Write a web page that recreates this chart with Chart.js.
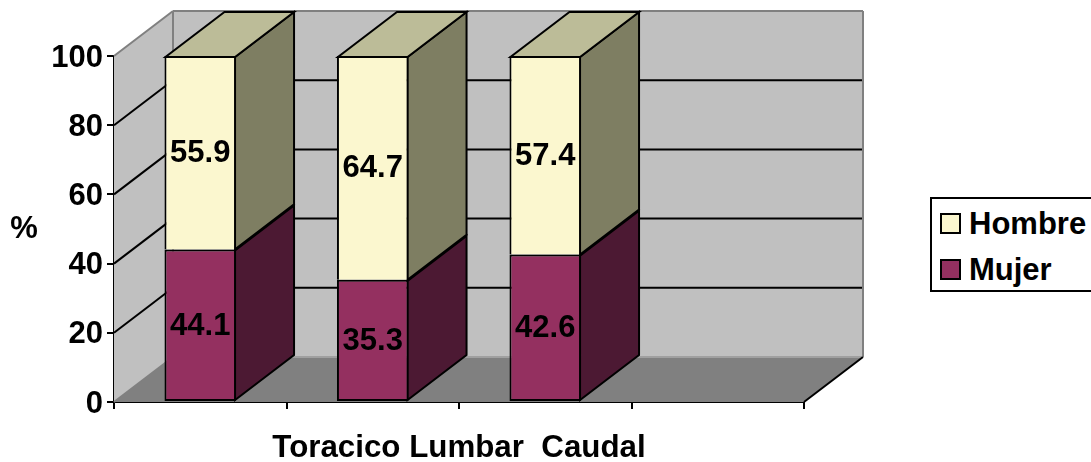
<!DOCTYPE html>
<html>
<head>
<meta charset="utf-8">
<title>Toracico Lumbar Caudal</title>
<script src="https://cdn.jsdelivr.net/npm/chart.js@4"></script>
<style>
    body { margin:0; background:#ffffff; overflow:hidden; }
    #wrap { position:relative; width:1091px; height:462px; }
    #legend {
        position:absolute; left:930px; top:197px; width:161px; height:91px;
        border:2px solid #000000; border-right:none; background:#ffffff;
        font:bold 31px "Liberation Sans", Arial, sans-serif; color:#000000;
    }
    #legend div { position:absolute; left:37px; line-height:34px; white-space:nowrap; }
    #legend span {
        position:absolute; left:-29px; top:6px; width:17px; height:17px;
        border:2px solid #000000; box-sizing:content-box;
    }
</style>
</head>
<body>
<div id="wrap">
    <canvas id="chart" width="1091" height="462"></canvas>
    <div id="legend"></div>
</div>
<script>
const categories = ["Toracico", "Lumbar", "Caudal", ""];
const mujer = [44.1, 35.3, 42.6, null];
const hombre = [55.9, 64.7, 57.4, null];
const yTicks = [0, 20, 40, 60, 80, 100];
const xTitle = "Toracico Lumbar  Caudal";
const yTitle = "%";

const FONT = '"Liberation Sans", Arial, sans-serif';
const DX = 59, DY = -45; // depth of the fake 3d box

const colors = {
    wall: "#c0c0c0", floor: "#808080", edge: "#808080",
    hombre: "#fbf7cf", hombreSide: "#7e7e62", hombreTop: "#bcbc98",
    mujer: "#943060", mujerSide: "#4c1933"
};

function poly(ctx, pts, fill, stroke){
    ctx.beginPath();
    pts.forEach((p, i) => i ? ctx.lineTo(p[0], p[1]) : ctx.moveTo(p[0], p[1]));
    ctx.closePath();
    if(fill){ ctx.fillStyle = fill; ctx.fill(); }
    if(stroke){ ctx.strokeStyle = stroke; ctx.lineWidth = 2; ctx.stroke(); }
}

function line(ctx, x1, y1, x2, y2, color, w){
    ctx.beginPath();
    ctx.moveTo(x1, y1);
    ctx.lineTo(x2, y2);
    ctx.strokeStyle = color;
    ctx.lineWidth = w;
    ctx.stroke();
}

const box3d = {
    id: "box3d",
    beforeDatasetsDraw(chart){
        const ctx = chart.ctx;
        const l = chart.scales.x.left, r = chart.scales.x.right;
        const y0 = chart.scales.y.getPixelForValue(0);
        const y100 = chart.scales.y.getPixelForValue(100);
        ctx.save();
        // walls and floor
        poly(ctx, [[l,y0],[l,y100],[l+DX,y100+DY],[l+DX,y0+DY]], colors.wall);
        poly(ctx, [[l+DX,y0+DY],[l+DX,y100+DY],[r+DX,y100+DY],[r+DX,y0+DY]], colors.wall);
        poly(ctx, [[l,y0],[l+DX,y0+DY],[r+DX,y0+DY],[r,y0]], colors.floor);
        // grid on the walls
        yTicks.slice(1, -1).forEach(v => {
            const y = chart.scales.y.getPixelForValue(v);
            line(ctx, l, y, l+DX, y+DY, "#000000", 2);
            line(ctx, l+DX, y+DY, r+DX, y+DY, "#000000", 2);
        });
        line(ctx, l, y100, l+DX, y100+DY, colors.edge, 2);
        line(ctx, l+DX, y100+DY, r+DX, y100+DY, colors.edge, 2);
        line(ctx, l+DX, y100+DY, l+DX, y0+DY, colors.edge, 2);
        line(ctx, r+DX, y100+DY, r+DX, y0+DY, colors.edge, 2);
        line(ctx, l+DX, y0+DY, r+DX, y0+DY, "#a0a0a0", 2);
        line(ctx, l, y0, l+DX, y0+DY, colors.edge, 2);
        line(ctx, r, y0, r+DX, y0+DY, "#000000", 2);

        // side and top faces of the bars, 1px in so they meet the bar border
        const sides = [colors.mujerSide, colors.hombreSide];
        chart.data.datasets.forEach((ds, d) => {
            chart.getDatasetMeta(d).data.forEach((bar, i) => {
                if(ds.data[i] == null) return;
                const p = bar.getProps(["x", "y", "base", "width"]);
                const x2 = p.x + p.width/2 - 1;
                const top = p.y + 1, base = p.base - (d == 0 ? 1 : 0);
                poly(ctx, [[x2,base],[x2,top],[x2+DX,top+DY],[x2+DX,base+DY]], sides[d], "#000000");
                if(d == 1){
                    const x1 = p.x - p.width/2 + 1;
                    poly(ctx, [[x1,top],[x2,top],[x2+DX,top+DY],[x1+DX,top+DY]], colors.hombreTop, "#000000");
                }
            });
        });
        ctx.restore();
    },
    afterDatasetsDraw(chart){
        const ctx = chart.ctx;
        ctx.save();
        ctx.font = "bold 31px " + FONT;
        ctx.fillStyle = "#000000";
        ctx.textAlign = "center";
        ctx.textBaseline = "middle";
        chart.data.datasets.forEach((ds, d) => {
            chart.getDatasetMeta(d).data.forEach((bar, i) => {
                if(ds.data[i] == null) return;
                const p = bar.getProps(["x", "y", "base"]);
                ctx.fillText(ds.data[i].toFixed(1), p.x, (p.y + p.base)/2 + 1);
            });
        });
        ctx.fillText(yTitle, 24, 229);
        ctx.restore();
    }
};

new Chart(document.getElementById("chart"), {
    type: "bar",
    data: {
        labels: categories,
        datasets: [
            { label: "Mujer", data: mujer, backgroundColor: colors.mujer, borderColor: "#000000", borderWidth: 2, borderSkipped: false, barPercentage: 0.415, categoryPercentage: 1 },
            { label: "Hombre", data: hombre, backgroundColor: colors.hombre, borderColor: "#000000", borderWidth: 2, borderSkipped: "bottom", barPercentage: 0.415, categoryPercentage: 1 }
        ]
    },
    options: {
        responsive: false,
        animation: false,
        layout: { padding: { left: 0, top: 56, right: 287, bottom: 0 } },
        plugins: { legend: { display: false }, tooltip: { enabled: false } },
        scales: {
            x: {
                stacked: true,
                afterFit: s => { s.height = 60; },
                border: { display: true, color: "#000000", width: 2 },
                grid: { offset: true, drawOnChartArea: false, drawTicks: true, tickLength: 7, color: "#000000", lineWidth: 2 },
                ticks: { display: false },
                title: {
                    display: true, text: xTitle, color: "#000000", padding: 0,
                    font: { family: FONT, size: 31.3, weight: "bold", lineHeight: 0.85 }
                }
            },
            y: {
                stacked: true,
                min: 0,
                max: 100,
                afterFit: s => { s.width = 114; },
                afterBuildTicks: s => { s.ticks = yTicks.map(v => ({ value: v })); },
                border: { display: true, color: "#000000", width: 2 },
                grid: { drawOnChartArea: false, drawTicks: true, tickLength: 7, color: "#000000", lineWidth: 2 },
                ticks: {
                    color: "#000000",
                    padding: 4,
                    // blank first line pushes the number down a little, like the reference
                    callback: v => ["", String(v)],
                    font: { family: FONT, size: 31, weight: "bold", lineHeight: "4px" }
                }
            }
        }
    },
    plugins: [box3d]
});

// legend box
const legendItems = [["Hombre", colors.hombre, 8], ["Mujer", colors.mujer, 54]];
legendItems.forEach(item => {
    const row = document.createElement("div");
    row.style.top = item[2] + "px";
    row.textContent = item[0];
    const swatch = document.createElement("span");
    swatch.style.background = item[1];
    row.appendChild(swatch);
    document.getElementById("legend").appendChild(row);
});
</script>
</body>
</html>
